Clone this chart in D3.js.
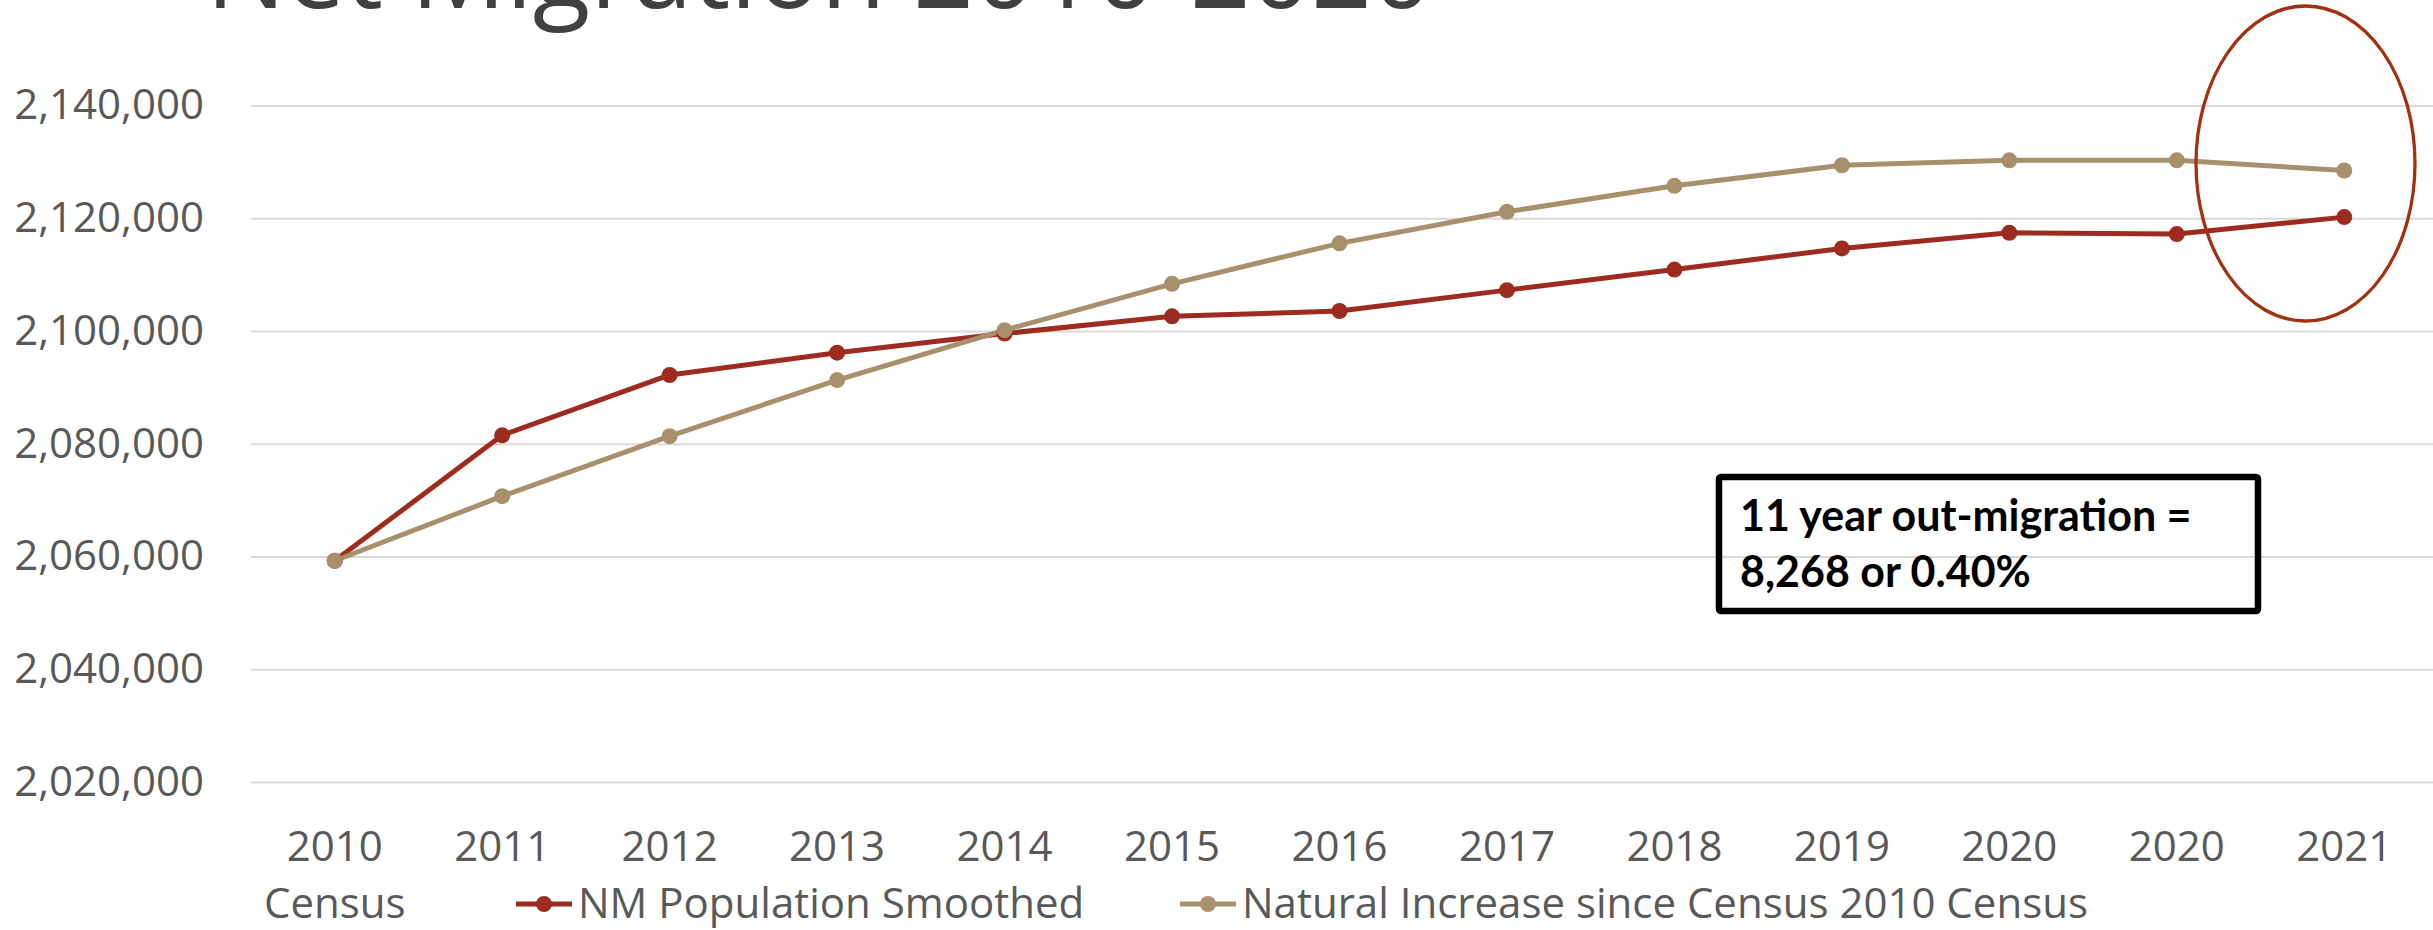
<!DOCTYPE html>
<html>
<head>
<meta charset="utf-8">
<script src="https://cdn.jsdelivr.net/npm/d3@7"></script>
<style>
  html, body { margin: 0; padding: 0; background: #fff; overflow: hidden; }
  svg { display: block; }
</style>
</head>
<body>
<div id="chart"></div>
<script>
// data
const categories = ['2010 Census', '2011', '2012', '2013', '2014', '2015', '2016',
	'2017', '2018', '2019', '2020', '2020', '2021'];
const nmSmoothed = [2059250, 2081500, 2092200, 2096150, 2099550, 2102600, 2103550,
	2107250, 2110900, 2114650, 2117420, 2117200, 2120200];
const naturalIncrease = [2059250, 2070700, 2081350, 2091300, 2100150, 2108370, 2115550,
	2121150, 2125750, 2129400, 2130280, 2130280, 2128468];
const yTicks = [2020000, 2040000, 2060000, 2080000, 2100000, 2120000, 2140000];
const seriesNames = ['NM Population Smoothed', 'Natural Increase since Census 2010 Census'];
const seriesColors = ['#9E2B1F', '#A8906C'];
const titleText = 'Net Migration 2010-2020';
const noteLines = ['11 year out-migration =', '8,268 or 0.40%'];

const W = 2433, H = 930;
const left = 251, right = 2428;

const svg = d3.select('#chart')
	.append('svg')
	.attr('width', W)
	.attr('height', H);

const x = d3.scaleBand()
	.domain(d3.range(categories.length))
	.range([left, right]);

const y = d3.scaleLinear()
	.domain([2020000, 2140000])
	.range([782, 105.5]);

//title, cut off at the top like the slide
svg.append('text')
	.attr('x', 206)
	.attr('y', 8)
	.style('font-family', '"Open Sans", sans-serif')
	.style('font-size', '106px')
	.style('fill', '#404040')
	.text(titleText);

//gridlines + y labels
const yAxis = svg.append('g')
	.attr('transform', 'translate(' + left + ',0)')
	.call(d3.axisLeft(y)
		.tickValues(yTicks)
		.tickFormat(d3.format(','))
		.tickSize(-(W - left))
		.tickPadding(47));

yAxis.select('.domain').remove();
yAxis.selectAll('line')
	.style('stroke', '#D9D9D9')
	.style('stroke-width', '2px');
yAxis.selectAll('text')
	.style('font-family', '"Open Sans", sans-serif')
	.style('font-size', '42px')
	.style('fill', '#595959');

//x labels
const xLabels = svg.append('g');
categories.forEach(function(c, i) {
	const parts = c.split(' ');
	const t = xLabels.append('text')
		.attr('x', x(i) + x.bandwidth() / 2)
		.attr('y', 861)
		.attr('text-anchor', 'middle')
		.style('font-family', '"Open Sans", sans-serif')
		.style('font-size', '42px')
		.style('fill', '#595959');
	parts.forEach(function(p, k) {
		t.append('tspan')
			.attr('x', x(i) + x.bandwidth() / 2)
			.attr('dy', k === 0 ? 0 : 57)
			.text(p);
	});
});

//lines
const line = d3.line()
	.x(function(d, i) { return x(i) + x.bandwidth() / 2; })
	.y(function(d) { return y(d); });

[nmSmoothed, naturalIncrease].forEach(function(values, s) {
	svg.append('path')
		.datum(values)
		.attr('d', line)
		.style('fill', 'none')
		.style('stroke', seriesColors[s])
		.style('stroke-width', '5px')
		.style('stroke-linejoin', 'round');
});

[nmSmoothed, naturalIncrease].forEach(function(values, s) {
	svg.append('g')
		.selectAll('circle')
		.data(values)
		.enter()
		.append('circle')
		.attr('cx', function(d, i) { return x(i) + x.bandwidth() / 2; })
		.attr('cy', function(d) { return y(d); })
		.attr('r', 8)
		.style('fill', seriesColors[s]);
});

//legend
const legendX = [516, 1180];
seriesNames.forEach(function(name, s) {
	const g = svg.append('g')
		.attr('transform', 'translate(' + legendX[s] + ',904)');
	g.append('line')
		.attr('x1', 0)
		.attr('x2', 56)
		.style('stroke', seriesColors[s])
		.style('stroke-width', '5px');
	g.append('circle')
		.attr('cx', 28)
		.attr('r', 8)
		.style('fill', seriesColors[s]);
	g.append('text')
		.attr('x', 62)
		.attr('y', 14)
		.style('font-family', '"Open Sans", sans-serif')
		.style('font-size', '42px')
		.style('fill', '#595959')
		.text(name);
});

//highlight ellipse round the last point
svg.append('ellipse')
	.attr('cx', 2305.5)
	.attr('cy', 163.5)
	.attr('rx', 109.5)
	.attr('ry', 157.5)
	.style('fill', 'none')
	.style('stroke', '#A0320F')
	.style('stroke-width', '3.3px');

//note box
svg.append('rect')
	.attr('x', 1719)
	.attr('y', 477)
	.attr('width', 539)
	.attr('height', 134)
	.attr('rx', 2)
	.style('fill', 'none')
	.style('stroke', '#000')
	.style('stroke-width', '6.5px');

noteLines.forEach(function(l, k) {
	svg.append('text')
		.attr('x', 1740)
		.attr('y', 531 + k * 56)
		.style('font-family', 'Lato, sans-serif')
		.style('font-weight', 'bold')
		.style('font-size', '43px')
		.style('fill', '#000')
		.text(l);
});
</script>
</body>
</html>
